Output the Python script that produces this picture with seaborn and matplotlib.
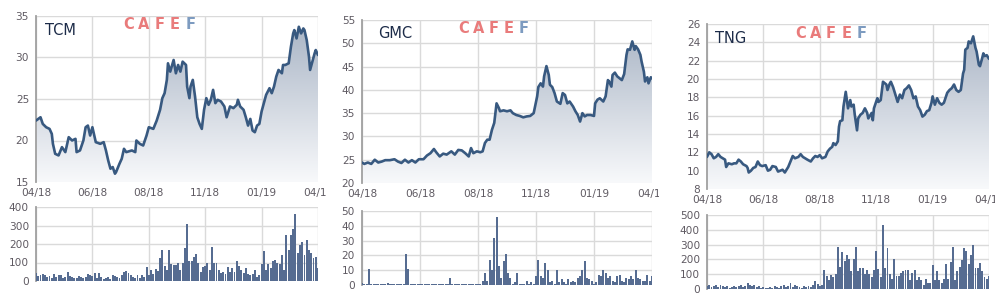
import numpy as np
import pandas as pd
import matplotlib
matplotlib.use("Agg")
import matplotlib.pyplot as plt
from matplotlib.colors import LinearSegmentedColormap
from matplotlib.transforms import Bbox, TransformedBbox
import seaborn as sns

# ---------------- data ----------------
tick_labels = ["04/18", "06/18", "08/18", "11/18", "01/19", "04/19"]
tick_days = [0, 50, 100, 150, 200, 250]

tcm_days = [0,4,6,9,12,14,15,17,20,23,26,29,32,35,36,39,42,44,46,48,50,53,57,60,62,64,66,68,70,71,
            74,76,78,80,85,88,89,92,95,98,100,104,107,110,112,114,116,117,119,122,124,126,128,130,133,134,
            136,137,139,141,143,145,147,149,151,153,155,157,159,161,164,167,169,172,175,178,179,181,184,186,
            188,190,192,194,196,198,200,202,204,207,209,211,213,215,218,219,221,224,226,228,229,231,233,235,
            237,238,240,242,243,245,247,248,250]
tcm_price = [22.4,22.8,22.0,21.6,21.4,20.8,19.6,18.4,18.2,19.2,18.6,20.4,20.0,20.2,18.6,18.8,20.0,21.6,21.8,20.6,
             21.6,19.8,19.6,19.8,18.8,17.6,16.6,16.8,16.0,16.2,17.2,17.8,19.0,18.6,18.8,18.6,20.0,19.6,19.4,20.6,
             21.6,21.4,22.4,23.7,25.1,25.7,27.3,29.3,28.3,29.7,28.1,29.1,28.3,29.5,29.1,26.5,25.1,26.5,27.3,25.3,
             22.8,22.0,21.4,23.7,25.1,24.3,24.9,26.1,24.5,24.9,24.7,24.1,22.8,24.1,23.9,24.3,24.9,24.1,23.7,22.8,
             21.8,22.6,21.2,21.0,21.8,22.0,23.5,24.5,25.5,26.3,25.7,26.5,27.7,28.5,28.1,29.1,29.1,29.3,31.3,32.9,
             33.3,32.3,33.7,32.9,33.5,33.3,32.1,30.1,28.5,29.5,30.5,30.9,30.3]

gmc_days = [0,2,5,8,11,14,17,20,24,28,31,34,37,40,43,46,49,53,56,59,62,64,67,70,73,77,80,83,86,89,
            92,94,96,99,102,104,106,108,110,112,114,115,116,118,119,122,125,128,130,133,136,139,142,145,148,
            151,152,154,156,157,159,161,162,164,166,168,171,173,175,177,179,182,184,186,188,190,192,194,197,200,
            201,203,205,208,210,212,213,215,216,218,220,222,224,226,228,229,231,233,235,236,238,240,241,243,244,
            246,247,249,250]
gmc_price = [24.4,24.1,24.4,24.1,25.0,24.4,24.6,24.9,24.9,25.1,24.6,24.3,25.0,24.4,24.9,24.4,25.1,25.1,25.9,26.4,
             27.3,26.6,25.7,26.3,26.1,26.8,26.1,27.1,27.0,26.4,25.7,27.5,26.4,26.8,26.6,26.8,28.6,29.3,29.3,31.4,
             32.9,35.0,37.1,36.1,35.4,35.6,35.4,35.6,35.0,34.6,34.4,34.1,34.3,34.4,35.0,38.6,40.6,41.4,40.7,42.9,
             45.1,43.2,41.1,40.6,39.3,37.5,37.0,39.3,38.9,37.1,37.5,36.4,35.4,34.6,33.2,35.0,34.3,34.6,34.6,34.4,
             37.1,37.9,38.2,37.5,38.6,42.1,41.8,40.7,43.2,43.7,42.9,42.5,42.1,43.4,47.5,48.7,48.6,50.4,48.6,49.4,
             48.7,47.5,46.1,43.9,41.8,42.7,41.4,42.7,42.5]

tng_days = [0,2,4,6,8,10,12,14,16,17,19,22,24,26,28,30,32,35,36,37,39,41,43,45,47,49,52,54,56,58,
            61,63,65,67,69,72,74,76,78,81,83,85,87,89,92,94,96,98,100,102,105,107,109,111,112,114,116,117,118,120,
            121,123,124,125,127,128,130,131,133,134,136,138,140,142,143,146,147,148,151,152,154,156,159,160,162,163,
            165,167,169,171,173,175,177,179,181,183,185,187,189,191,193,195,197,199,200,202,204,206,208,210,
            213,215,217,219,221,223,225,227,228,229,231,232,234,236,238,239,241,242,244,245,246,248,250]
tng_price = [11.5,12.0,11.8,11.35,11.5,11.8,11.5,11.35,11.2,10.4,10.8,10.7,10.8,10.8,11.2,11.0,10.7,10.5,10.3,9.8,
             10.0,10.3,10.4,11.0,10.6,10.5,10.6,10.0,10.1,10.5,10.4,9.9,10.0,10.1,9.8,10.4,11.0,11.6,11.35,11.5,
             11.8,11.5,11.35,11.2,11.0,11.35,11.6,11.5,11.7,11.35,11.5,12.1,12.4,12.6,13.0,12.8,13.2,14.8,15.4,15.5,
             17.0,18.6,17.7,16.8,17.7,17.0,17.2,16.1,14.4,15.7,16.1,16.3,16.8,16.3,15.7,16.3,15.5,16.8,17.9,17.5,
             17.7,19.7,19.4,18.8,19.5,19.7,19.1,18.3,17.5,18.3,17.9,18.8,19.0,19.3,18.8,17.9,18.1,17.0,16.6,15.9,
             16.1,16.5,16.6,17.4,18.1,17.2,17.9,17.4,17.2,17.4,18.5,18.8,19.0,19.4,18.8,18.6,18.8,20.6,21.0,23.2,
             23.4,24.1,23.9,24.65,23.4,23.0,21.55,21.4,22.3,22.8,22.5,22.6,22.2]

vol_days = list(range(0, 251, 2))
tcm_vol = [45,25,35,40,30,20,25,15,40,20,30,30,15,20,50,
           25,20,15,15,25,20,15,20,40,30,25,45,15,45,20,
           10,15,20,10,35,25,20,15,30,50,55,45,35,20,15,
           35,15,30,20,75,
           30,60,40,65,55,125,165,80,60,165,90,85,85,95,60,
           100,180,310,110,110,130,145,100,50,75,80,95,60,185,100,
           100,60,45,50,40,75,50,70,50,110,80,60,45,70,40,
           30,40,60,20,30,90,160,60,90,70,110,115,100,90,140,
           60,250,170,250,280,360,150,195,210,140,220,165,150,125,130,70]
gmc_vol = [1.5,0.5,0.5,11,0.5,0.5,0.5,0.5,0.5,0.5,
           0.5,1.5,0.5,0.5,0.5,0.5,0.5,0.5,0.5,21,
           11,0.5,0.5,0.5,0.5,0.5,0.5,0.5,0.5,0.5,
           0.5,0.5,0.5,0.5,0.5,0.5,0.5,0.5,5,0.5,
           0.5,0.5,0.5,0.5,0.5,0.5,0.5,0.5,0.5,0.5,
           0.5,1,3,8,3,17,10,32,46,13,
           5,16,21,8,5,1,2,8,0.5,0.5,
           0.5,3,1,2,1,6,17,6,5,15,
           10,2,3,1,10,2,4,2,1,4,
           2,3,2,5,6,10,16,5,4,3,
           1,2,7,6,10,8,5,6,3,2,
           6,7,3,2,5,4,6,4,10,5,
           4,3,3,7,3,6]
tng_vol = [20,25,15,20,25,15,30,20,15,20,10,15,20,15,20,25,15,20,
           40,
           25,20,25,15,20,10,15,10,10,15,10,20,15,10,20,25,15,20,
           40,15,25,20,15,10,20,15,20,15,25,55,35,20,
           30,130,90,60,95,80,100,285,150,250,190,230,200,120,200,285,120,140,140,100,
           130,100,80,130,260,135,80,430,140,280,100,70,200,85,90,110,125,130,130,60,
           110,130,60,80,60,30,70,40,40,165,60,120,60,40,70,170,70,180,285,60,
           120,150,195,280,260,170,230,300,140,140,175,120,80,70,85]

for a, b in [(tcm_days, tcm_price), (gmc_days, gmc_price), (tng_days, tng_price),
             (vol_days, tcm_vol), (vol_days, gmc_vol), (vol_days, tng_vol)]:
    assert len(a) == len(b), (len(a), len(b))

panels = [
    dict(name="TCM", days=tcm_days, price=tcm_price, vol=tcm_vol,
         pylim=(15, 35), pstep=5, vylim=(0, 400), vstep=100,
         price_rect=[36, 16, 318, 182], vol_rect=[36, 207, 318, 281],
         clip_x=327, name_xy=(0.032, 0.91), logo_x=(0.30, 0.575), logo_y=0.95),
    dict(name="GMC", days=gmc_days, price=gmc_price, vol=gmc_vol,
         pylim=(20, 55), pstep=5, vylim=(0, 50), vstep=10,
         price_rect=[362, 20, 652, 183], vol_rect=[362, 211, 652, 285],
         clip_x=659, name_xy=(0.055, 0.92), logo_x=(0.325, 0.585), logo_y=0.95),
    dict(name="TNG", days=tng_days, price=tng_price, vol=tng_vol,
         pylim=(8, 26), pstep=2, vylim=(0, 500), vstep=100,
         price_rect=[707, 24, 989, 189], vol_rect=[707, 215, 989, 289],
         clip_x=995, name_xy=(0.028, 0.91), logo_x=(0.305, 0.575), logo_y=0.945),
]

# ---------------- style ----------------
sns.set_style("white")
plt.rcParams["font.family"] = ["DejaVu Sans"]

W, H = 1004, 297
fig = plt.figure(figsize=(W / 100, H / 100), dpi=100)
fig.patch.set_facecolor("white")

LINE = "#385980"
BAR = "#566c91"
GRID = "#dadada"
TICKC = "#5f5a62"
NAMEC = "#1c2b48"
cmap = LinearSegmentedColormap.from_list("fillgrad", ["#f8f9fb", "#a6b2c3"])


def rect_to_axes(r):
    l, t, rr, b = r
    return [l / W, 1 - b / H, (rr - l) / W, (b - t) / H]


def style_axes(ax, ylim, ystep):
    ax.set_xlim(0, 250)
    ax.set_ylim(*ylim)
    ax.set_yticks(np.arange(ylim[0], ylim[1] + 0.001, ystep))
    ax.set_xticks(tick_days)
    ax.grid(True, color=GRID, linewidth=1.0)
    ax.set_axisbelow(True)
    for s in ["top", "right", "bottom"]:
        ax.spines[s].set_visible(False)
    ax.spines["left"].set_color("#a0a0a0")
    ax.spines["left"].set_linewidth(1.3)
    ax.tick_params(axis="y", length=4, width=1.2, color="#333333", labelsize=7.6,
                   labelcolor=TICKC, pad=1)
    ax.tick_params(axis="x", length=0, labelsize=7.6, labelcolor=TICKC, pad=4)
    ax.set_xlabel("")
    ax.set_ylabel("")
    ax.set_facecolor("white")


price_axes = []
for p in panels:
    axp = fig.add_axes(rect_to_axes(p["price_rect"]))
    axv = fig.add_axes(rect_to_axes(p["vol_rect"]))
    price_axes.append(axp)

    df = pd.DataFrame({"day": p["days"], "price": p["price"]})
    lo, hi = p["pylim"]

    # gradient area under the line
    poly = axp.fill_between(df["day"], df["price"], lo, facecolor="none", edgecolor="none")
    grad = np.linspace(1, 0, 256).reshape(-1, 1)
    im = axp.imshow(grad, extent=[0, 250, lo, hi], origin="upper", aspect="auto",
                    cmap=cmap, zorder=2, interpolation="bilinear")
    im.set_clip_path(poly.get_paths()[0], transform=axp.transData)

    sns.lineplot(data=df, x="day", y="price", ax=axp, color=LINE, linewidth=1.9,
                 zorder=4, estimator=None, sort=False)
    style_axes(axp, p["pylim"], p["pstep"])
    axp.set_xticklabels(tick_labels)
    axp.grid(True, color=GRID, linewidth=1.0, zorder=1)

    # ticker name and logo
    axp.text(p["name_xy"][0], p["name_xy"][1], p["name"], transform=axp.transAxes,
             fontsize=10.5, color=NAMEC, ha="left", va="center", zorder=6)
    x0, x1 = p["logo_x"]
    letters = "CAFEF"
    cols = ["#e97b7b", "#e97b7b", "#e97b7b", "#e97b7b", "#7d9bc0"]
    for k, (ch, c) in enumerate(zip(letters, cols)):
        xx = x0 + (x1 - x0) * (k + 0.5) / len(letters)
        axp.text(xx, p["logo_y"], ch, transform=axp.transAxes, fontsize=10.5,
                 fontweight="heavy", color=c, ha="center", va="center", zorder=6)

    # volume bars
    dv = pd.DataFrame({"day": vol_days, "vol": p["vol"]})
    sns.barplot(data=dv, x="day", y="vol", ax=axv, native_scale=True, width=0.85,
                color=BAR, saturation=1, errorbar=None, linewidth=0, zorder=3)
    style_axes(axv, p["vylim"], p["vstep"])
    axv.set_xticklabels([])
    axv.grid(True, color=GRID, linewidth=1.0, zorder=1)

# clip the last date label where each chart image ends
fig.canvas.draw()
for p, axp in zip(panels, price_axes):
    if p["clip_x"] is not None:
        lbl = axp.xaxis.get_major_ticks()[-1].label1
        lbl.set_clip_box(TransformedBbox(Bbox([[0, 0], [p["clip_x"] / W, 1]]), fig.transFigure))
        lbl.set_clip_on(True)

fig.savefig("out.png", dpi=100, facecolor="white")
